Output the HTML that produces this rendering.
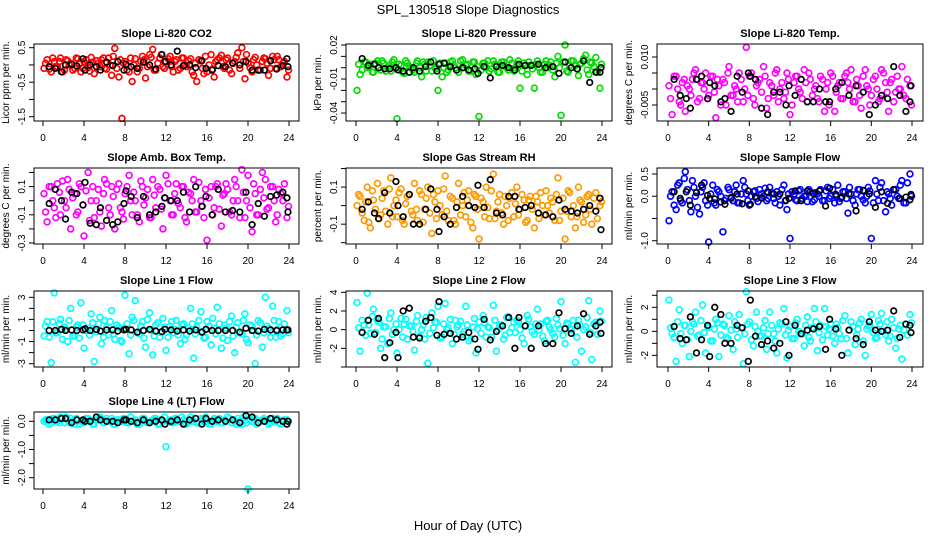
<!DOCTYPE html>
<html><head><meta charset="utf-8"><title>SPL_130518 Slope Diagnostics</title>
<style>
html,body{margin:0;padding:0;background:#fff;}
svg{display:block;font-family:"Liberation Sans",Arial,sans-serif;}
</style></head>
<body>
<svg id="chart" width="936" height="540" viewBox="0 0 936 540" xmlns="http://www.w3.org/2000/svg">
<text x="468" y="14" text-anchor="middle" font-size="13">SPL_130518  Slope Diagnostics</text>
<text x="468" y="530" text-anchor="middle" font-size="13">Hour of Day (UTC)</text>
</svg>
<script>
// Shared time axes (hour of day)
const hoursC = [0.1,0.4,0.8,1.1,1.4,1.7,2.1,2.4,2.7,3.1,3.4,3.7,4.0,4.4,4.7,5.0,5.4,5.7,6.0,6.4,6.7,7.0,7.4,7.7,8.0,8.4,8.7,9.0,9.4,9.7,10.0,10.4,10.7,11.0,11.4,11.7,12.0,12.4,12.7,13.0,13.4,13.7,14.0,14.4,14.7,15.0,15.4,15.7,16.0,16.4,16.7,17.0,17.4,17.7,18.0,18.4,18.7,19.0,19.4,19.7,20.0,20.4,20.7,21.0,21.4,21.7,22.0,22.4,22.7,23.0,23.4,23.8];
const hoursC2 = [0.25,0.6,0.95,1.25,1.6,1.9,2.25,2.55,2.9,3.25,3.55,3.9,4.2,4.55,4.85,5.2,5.55,5.9,6.2,6.55,6.85,7.2,7.55,7.85,8.2,8.55,8.85,9.2,9.55,9.85,10.2,10.55,10.85,11.2,11.55,11.85,12.2,12.55,12.85,13.2,13.55,13.85,14.2,14.55,14.85,15.2,15.55,15.85,16.2,16.55,16.85,17.2,17.55,17.85,18.2,18.55,18.85,19.2,19.55,19.85,20.2,20.55,20.85,21.2,21.55,21.85,22.2,22.55,22.85,23.2,23.55,23.95];
const hoursK = [0.6,1.2,1.8,2.2,2.8,3.3,3.9,4.1,4.6,5.2,5.6,6.2,6.8,7.3,7.9,8.1,8.6,9.2,9.8,10.4,11.0,11.6,11.9,12.5,13.1,13.7,14.3,14.9,15.5,15.9,16.5,17.1,17.8,18.5,19.2,19.8,20.4,21.0,21.6,22.2,22.8,23.4,23.8,23.9];
const xTicks = [0,4,8,12,16,20,24];

// Panel 1: Li-820 CO2
const c1 = [-0.1,0.15,-0.2,0.1,-0.05,0.2,-0.15,0.12,0.05,-0.1,0.18,-0.2,0.1,-0.08,0.22,-0.25,0.05,0.15,-0.1,0.2,-0.3,0.48,-0.35,-1.55,0.1,-0.2,-0.48,0.18,-0.1,0.25,-0.38,0.3,0.45,-0.15,0.2,-0.05,0.1,0.25,-0.2,0.15,-0.1,0.2,-0.05,0.18,-0.3,-0.48,0.12,-0.25,-0.2,0.3,-0.35,0.15,0.28,-0.1,0.2,-0.25,0.1,0.35,0.5,-0.4,0.05,-0.2,0.22,-0.15,0.1,0.18,-0.3,0.25,-0.1,0.15,0.05,-0.35];
const d1 = [0.05,-0.12,0.2,-0.05,0.1,-0.2,0.15,0.0,-0.15,0.2,0.05,-0.1,0.15,-0.18,0.08,0.12,-0.05,0.2,-0.12,0.0,0.25,-0.1,0.15,0.05,-0.15,0.2,0.0,-0.2,0.1,0.15,-0.05,0.22,-0.15,0.05,0.3,-0.1,0.18,-0.05,0.1,-0.15,0.2,0.0,0.12,-0.2,0.05,0.15,-0.1,0.25,0.0,-0.12,0.1,0.2,-0.05,0.15,-0.15,0.05,0.22,-0.1,0.1,0.3,-0.08,0.15,0.0,-0.15,0.2,0.05,-0.1,0.15,0.25,-0.05,0.1,-0.15];
const k1 = [-0.05,-0.1,-0.2,0.0,0.02,-0.03,0.18,-0.15,0.0,-0.05,-0.15,0.08,-0.02,0.1,-0.15,0.02,-0.05,-0.1,0.08,0.0,-0.12,0.3,0.1,0.0,0.4,-0.02,0.0,-0.08,0.12,-0.1,-0.15,-0.02,-0.05,0.05,0.0,0.1,-0.15,-0.15,-0.15,0.12,-0.12,-0.02,0.18,-0.05];
const t1 = [0.5,0,-0.5,-1,-1.5];
const l1 = ["0.5","","-0.5","","-1.5"];
// Panel 2: Li-820 Pressure
const c2 = [-0.02,-0.006,0.005,0.0,0.003,-0.004,0.006,-0.002,0.004,0.0,-0.003,0.007,-0.045,0.002,-0.005,0.004,0.0,-0.004,0.006,-0.008,0.003,0.005,-0.003,0.0,-0.02,-0.008,0.004,-0.002,0.006,0.0,-0.004,0.007,0.002,-0.003,0.005,-0.006,-0.043,0.004,0.0,-0.003,0.006,0.002,-0.004,0.005,0.0,0.007,-0.003,0.003,-0.018,0.004,-0.006,0.002,-0.018,0.006,-0.004,0.003,0.0,0.005,-0.008,0.01,-0.042,0.02,-0.004,0.006,0.002,-0.007,0.004,0.011,-0.006,0.004,0.009,-0.018];
const d2 = [0.003,-0.002,0.005,0.001,-0.004,0.004,0.0,0.006,-0.003,0.002,0.005,-0.001,0.003,-0.004,0.006,0.001,-0.002,0.004,0.0,0.005,-0.003,0.002,0.006,-0.001,0.004,0.0,-0.004,0.005,0.002,-0.002,0.006,0.0,0.003,-0.003,0.005,0.001,-0.002,0.004,0.006,-0.001,0.003,-0.004,0.005,0.001,-0.002,0.004,0.0,0.006,-0.003,0.002,0.005,-0.001,0.003,0.0,-0.004,0.006,0.002,-0.002,0.004,0.0,0.005,-0.003,0.002,0.006,-0.001,0.003,0.008,-0.002,0.005,0.001,-0.004,0.003];
const k2 = [0.008,0.002,0.003,0.0,-0.001,-0.001,0.0,-0.002,-0.003,-0.004,0.0,-0.003,0.001,0.005,-0.003,0.003,0.004,0.001,-0.002,0.0,-0.002,-0.001,-0.005,0.001,-0.009,0.001,0.002,0.0,-0.002,0.003,0.002,0.002,0.003,0.0,0.001,-0.005,0.005,0.0,-0.001,0.006,-0.013,-0.004,-0.004,0.0];
const t2 = [0.02,0.01,0,-0.01,-0.02,-0.03,-0.04];
const l2 = ["0.02","","","-0.01","","","-0.04"];
// Panel 3: Li-820 Temp.
const c3 = [0.001,-0.008,0.004,-0.004,0.002,-0.007,0.0,0.003,0.006,-0.003,0.002,0.005,-0.002,0.004,-0.009,0.001,0.003,-0.005,0.007,-0.002,0.0,0.005,-0.004,0.013,0.004,-0.003,0.001,0.003,0.007,-0.006,0.002,-0.002,0.006,0.0,-0.003,0.005,-0.008,0.002,0.004,-0.001,0.006,-0.004,0.003,0.0,-0.003,0.004,-0.007,0.002,0.005,-0.007,0.001,-0.003,0.004,0.002,0.006,-0.004,0.001,-0.006,0.006,0.0,-0.002,0.004,-0.004,0.006,0.002,-0.007,0.003,-0.001,0.0,0.007,-0.003,0.001];
const d3 = [-0.003,0.004,0.0,-0.005,0.003,0.001,-0.002,0.005,-0.004,0.002,0.0,-0.003,0.004,-0.001,0.003,-0.005,0.002,0.005,-0.002,0.001,-0.004,0.003,0.0,-0.002,0.005,-0.005,0.002,-0.001,0.004,-0.003,0.001,0.005,-0.004,0.002,-0.001,0.003,-0.005,0.004,0.0,-0.003,0.002,0.005,-0.002,0.001,-0.004,0.003,0.0,-0.005,0.004,-0.001,0.002,-0.003,0.005,0.0,-0.004,0.003,-0.002,0.004,0.001,-0.005,0.003,0.0,-0.003,0.005,-0.001,0.002,-0.004,0.004,0.0,-0.002,0.003,-0.005];
const k3 = [0.003,-0.002,-0.003,-0.006,0.003,0.004,-0.003,0.002,0.001,-0.004,-0.003,-0.007,0.004,-0.001,0.005,0.004,0.003,-0.006,-0.008,-0.001,-0.001,-0.005,0.001,-0.002,0.003,-0.004,-0.004,0.0,-0.004,-0.004,0.0,0.002,-0.002,0.001,-0.001,-0.008,-0.005,-0.002,-0.003,0.007,-0.002,-0.007,-0.004,0.001];
const t3 = [0.01,0.005,0,-0.005];
const l3 = ["0.010","","","-0.005"];
// Panel 4: Amb. Box Temp.
const c4 = [0.05,-0.15,0.1,-0.05,0.12,-0.1,0.0,0.15,-0.2,0.05,-0.08,0.1,-0.25,0.2,0.0,-0.12,0.08,-0.18,0.15,-0.05,0.1,-0.2,0.12,-0.08,0.05,0.18,-0.1,0.0,-0.15,0.1,0.02,-0.12,0.15,-0.05,0.08,-0.2,0.18,0.0,-0.1,0.12,-0.05,0.1,-0.15,0.05,0.15,-0.08,0.0,-0.12,-0.28,0.1,-0.05,0.12,-0.18,0.05,0.08,-0.1,0.15,0.0,0.22,-0.12,0.18,-0.22,0.05,-0.1,0.2,0.15,-0.05,0.1,-0.15,0.08,0.0,-0.12];
const d4 = [-0.08,0.1,0.0,-0.12,0.06,0.14,-0.05,0.08,0.02,-0.1,0.12,-0.03,0.07,-0.14,0.1,0.0,-0.08,0.05,0.12,-0.1,0.03,0.08,-0.05,-0.13,0.1,0.0,0.06,-0.1,0.14,-0.03,0.08,-0.12,0.04,0.1,-0.06,0.02,0.12,-0.1,0.05,-0.02,0.1,-0.12,0.06,0.0,-0.08,0.13,-0.04,0.08,0.02,-0.1,0.1,-0.06,0.04,0.12,-0.08,0.0,0.1,-0.12,0.06,0.0,-0.05,0.12,-0.1,0.08,0.02,-0.06,0.1,0.0,-0.1,0.05,0.12,-0.04];
const k4 = [-0.02,0.08,0.0,-0.13,0.06,0.05,-0.03,0.13,-0.16,-0.17,-0.05,-0.14,-0.17,-0.15,-0.02,0.07,0.03,-0.12,0.03,-0.1,-0.08,-0.04,0.02,0.0,0.0,0.06,-0.08,0.1,-0.04,0.03,-0.1,0.08,-0.08,-0.07,-0.08,0.06,-0.17,-0.02,-0.11,0.03,0.04,0.06,0.02,-0.08];
const t4 = [0.2,0.1,0,-0.1,-0.2,-0.3];
const l4 = ["","0.1","","-0.1","","-0.3"];
// Panel 5: Gas Stream RH
const c5 = [0.0,0.05,-0.08,0.1,-0.12,0.03,0.12,-0.05,0.08,-0.1,0.15,0.0,-0.06,0.09,-0.1,0.05,-0.03,0.12,-0.08,0.06,-0.02,0.1,-0.15,0.02,0.08,-0.05,0.16,-0.08,0.04,-0.1,0.12,0.0,-0.06,0.08,-0.12,0.05,-0.18,0.02,0.1,-0.07,0.17,-0.03,0.06,-0.1,0.0,0.04,-0.06,0.1,-0.02,0.03,-0.08,0.05,-0.12,0.02,0.07,-0.05,0.0,0.04,-0.08,0.15,-0.03,-0.18,0.08,-0.06,-0.12,0.1,0.02,-0.05,0.06,-0.1,0.07,0.0];
const d5 = [0.06,-0.04,0.02,-0.09,0.08,-0.02,-0.07,0.04,-0.03,0.09,-0.06,0.03,0.07,-0.08,0.01,0.06,-0.05,-0.02,0.08,-0.09,0.04,-0.04,0.06,-0.07,0.0,0.09,-0.03,0.05,-0.08,0.02,-0.05,0.07,0.03,-0.09,0.06,-0.02,0.04,-0.06,-0.01,0.08,-0.07,0.02,-0.04,0.05,-0.08,0.07,0.01,-0.05,0.06,-0.09,0.03,-0.02,0.05,-0.07,0.0,0.08,-0.04,0.02,0.06,-0.08,0.04,-0.03,0.07,0.0,-0.06,0.03,-0.09,0.05,-0.02,0.04,-0.07,0.02];
const k5 = [-0.02,0.02,-0.04,-0.07,0.07,-0.04,0.13,0.0,-0.06,0.06,-0.1,-0.1,-0.02,0.09,-0.02,-0.14,-0.06,-0.1,-0.01,0.05,0.0,-0.01,0.11,-0.01,0.14,-0.04,-0.05,0.05,0.05,-0.02,-0.01,0.0,-0.04,-0.05,-0.06,0.03,-0.02,-0.03,-0.04,-0.02,0.0,-0.03,0.04,-0.13];
const t5 = [0.2,0.1,0,-0.1,-0.2];
const l5 = ["","0.1","","-0.1",""];
// Panel 6: Sample Flow
const c6 = [-0.55,0.1,-0.3,0.3,-0.15,0.55,-0.1,0.35,0.0,-0.4,0.2,-0.1,-1.03,0.25,-0.2,0.1,-0.8,-0.05,0.15,-0.1,0.25,-0.15,0.35,0.05,-0.2,0.1,-0.05,0.15,0.0,-0.1,0.2,-0.05,0.1,-0.2,0.25,-0.3,-0.95,0.05,-0.1,0.15,0.0,-0.12,0.1,-0.08,0.05,0.15,-0.1,0.2,0.0,-0.15,0.25,-0.05,0.1,-0.38,0.05,-0.2,0.15,0.0,-0.15,0.2,-0.95,0.35,-0.1,0.3,-0.35,0.05,-0.2,0.15,-0.05,0.35,-0.15,0.5];
const d6 = [0.0,-0.2,0.25,-0.1,0.4,0.15,-0.35,0.2,-0.25,0.1,0.3,-0.2,0.05,-0.15,0.15,0.0,-0.1,0.2,-0.05,0.1,-0.15,0.05,0.2,-0.1,0.0,0.12,-0.12,0.05,0.18,-0.05,0.08,-0.15,0.0,0.15,-0.1,0.05,0.1,-0.08,0.12,-0.05,0.0,0.15,-0.12,0.08,0.0,-0.1,0.12,-0.05,0.15,0.0,-0.12,0.1,-0.05,0.2,-0.1,0.05,0.15,-0.08,0.0,0.12,-0.15,0.05,0.2,-0.1,0.1,-0.05,0.15,0.0,0.25,-0.15,0.3,0.0];
const k6 = [0.1,-0.05,0.1,-0.2,0.08,0.25,0.02,-0.05,-0.06,-0.13,-0.18,-0.03,0.05,-0.17,0.12,-0.18,-0.01,-0.04,0.1,0.05,0.05,-0.09,-0.05,0.12,-0.1,0.12,0.06,0.12,-0.22,0.18,0.04,-0.02,0.05,-0.33,0.13,0.05,-0.25,0.1,-0.16,0.15,-0.05,-0.02,-0.08,0.04];
const t6 = [0.5,0,-0.5,-1];
const l6 = ["0.5","0.0","","-1.0"];
// Panel 7: Line 1 Flow
const c7 = [-0.5,0.8,-2.9,3.4,-0.2,1.0,0.3,-1.0,2.0,-0.5,0.5,2.5,-1.6,0.2,1.5,-2.8,0.6,-1.2,0.9,-0.4,1.8,-0.8,0.3,-1.0,3.2,-2.1,1.2,2.7,-0.3,0.8,-1.5,1.6,-2.2,0.5,-0.6,1.1,-1.8,0.4,-0.2,0.9,-1.2,0.6,-0.4,2.0,-2.5,0.3,1.7,-0.7,0.8,-1.3,0.2,2.1,-1.6,0.5,-0.9,1.3,-2.0,0.7,-0.3,1.5,-1.1,0.4,-3.0,0.9,-1.5,3.0,0.2,2.2,-0.6,0.8,-0.3,1.8];
const d7 = [0.4,-0.6,0.8,-0.2,0.6,-0.8,0.1,0.9,-0.5,0.3,-0.7,0.5,0.0,-0.4,0.7,-0.1,1.2,-0.6,0.3,0.8,-0.3,0.5,-0.9,0.2,0.6,-0.4,0.9,-0.2,0.4,-0.7,1.0,0.0,-0.5,0.7,-0.2,0.3,-0.6,0.8,0.1,-0.4,0.5,-0.8,0.2,0.6,-0.3,0.9,-0.1,-0.6,0.4,1.1,-0.3,0.6,-0.7,0.2,0.8,-0.5,0.3,-0.2,0.9,-0.8,0.5,0.0,-0.4,0.7,-0.2,0.4,-0.6,0.9,0.1,-0.5,0.6,-0.2];
const k7 = [0.0,0.0,0.1,0.0,0.05,0.0,0.05,0.15,0.0,0.1,-0.05,0.05,0.05,-0.05,0.05,0.1,0.05,-0.15,0.0,0.1,-0.05,-0.1,0.1,0.05,-0.05,0.05,-0.05,0.05,-0.15,0.1,0.0,0.0,0.0,0.0,-0.15,0.2,0.0,-0.05,0.1,0.05,0.0,0.05,0.05,0.05];
const t7 = [3,2,1,0,-1,-2,-3];
const l7 = ["3","","1","","-1","","-3"];
// Panel 8: Line 2 Flow
const c8 = [2.9,-2.3,0.5,3.9,-0.4,2.2,1.0,-2.0,0.3,-1.5,1.8,0.0,-2.5,1.2,0.6,-1.0,0.4,-2.2,1.5,0.0,-1.0,-3.6,1.8,0.8,2.5,-0.8,2.8,0.2,-1.5,1.0,0.5,-0.5,2.5,-1.2,0.3,-2.5,0.8,1.5,-0.8,0.2,2.6,-2.3,0.5,-1.0,1.3,-0.3,0.8,1.0,0.0,-1.5,1.5,0.3,-0.5,2.2,0.6,-1.2,1.0,0.0,-0.8,0.5,3.0,-1.5,0.6,0.0,-3.5,1.0,-2.3,0.3,3.1,-3.2,0.8,2.0];
const d8 = [0.2,1.0,-0.6,0.5,1.4,-0.3,0.8,-1.0,0.3,1.2,-0.5,0.6,0.0,-0.8,1.1,0.4,-0.2,0.9,-0.7,0.5,1.3,-0.4,0.2,0.8,-0.9,0.6,0.0,1.1,-0.5,0.3,0.9,-0.2,0.5,-1.0,1.2,0.1,-0.4,0.7,0.3,-0.8,1.0,0.0,0.5,-0.6,1.4,0.2,-0.3,0.8,-0.9,0.4,1.1,-0.2,0.6,0.0,-0.7,0.9,0.3,-0.4,1.2,0.1,-0.6,0.7,0.2,1.0,-0.8,0.5,0.0,1.3,-0.3,0.6,-0.5,0.9];
const k8 = [-0.3,1.0,-0.5,1.2,-3.0,-1.4,-0.3,-3.0,2.0,2.3,-0.8,-0.9,0.9,1.3,-0.6,3.0,-0.5,-0.4,-1.0,-0.8,-0.3,-1.0,-2.1,1.1,-1.1,-0.2,0.4,1.3,-2.0,1.3,0.4,-2.0,0.4,-1.5,-1.5,1.8,0.1,-0.4,0.4,1.7,-0.5,0.4,0.8,-0.4];
const t8 = [4,2,0,-2,-4];
const l8 = ["4","2","0","-2",""];
// Panel 9: Line 3 Flow
const c9 = [2.6,-0.2,-2.5,1.8,-1.0,0.5,-2.1,0.8,1.6,-0.3,2.2,-1.8,0.3,-0.8,1.0,-2.1,0.6,-0.5,1.3,-1.5,0.2,1.4,-2.7,3.3,0.8,-1.2,1.6,-0.4,0.3,-1.5,1.6,-0.2,-1.8,0.7,1.9,-2.2,0.4,-0.6,1.0,-0.2,-1.2,1.2,-0.8,1.9,-1.6,0.5,1.9,-0.3,0.6,-1.0,0.3,-0.6,1.3,-1.8,0.8,-1.1,0.2,1.0,-2.0,0.4,1.4,-0.6,0.9,1.5,-0.3,-0.8,1.0,-1.4,0.2,-2.3,0.6,1.4];
const d9 = [0.3,-0.5,0.8,-0.2,0.5,-0.7,0.0,0.6,-0.4,0.9,-0.1,0.4,-0.8,0.2,0.7,-0.3,0.5,-0.6,0.1,0.8,-0.5,0.3,-0.2,0.6,-0.7,0.4,0.0,-0.4,0.9,-0.2,0.5,-0.8,0.2,0.6,-0.3,0.1,-0.6,0.7,0.0,-0.2,0.5,-0.5,0.3,0.8,-0.1,-0.7,0.4,0.2,-0.4,0.6,-0.2,0.9,-0.6,0.1,0.4,-0.3,0.7,-0.8,0.2,0.5,-0.1,-0.5,0.6,0.0,0.8,-0.4,0.3,-0.6,0.5,0.1,-0.3,0.7];
const k9 = [0.4,-0.6,-0.7,1.2,-1.8,-0.7,0.5,-2.1,2.0,1.4,-1.0,-1.0,0.5,0.3,-2.5,2.6,-0.4,-1.1,-0.8,-1.4,-1.0,0.8,-2.0,0.5,-0.2,0.1,0.2,0.4,-1.5,1.0,0.2,-2.0,0.1,-0.6,-1.1,0.8,0.1,0.0,0.1,1.7,-0.5,0.6,0.5,-0.1];
const t9 = [3,2,1,0,-1,-2];
const l9 = ["","2","","0","","-2"];
// Panel 10: Line 4 (LT) Flow
const c10 = [0.0,0.05,-0.05,0.1,0.0,0.15,-0.05,0.05,0.1,-0.1,0.05,0.0,-0.05,0.1,0.0,-0.1,0.05,0.1,-0.05,0.0,0.1,-0.1,0.05,0.0,0.1,-0.05,0.0,0.05,-0.1,0.1,0.0,-0.05,0.05,0.1,-0.1,0.0,-0.9,0.05,-0.05,0.1,0.0,0.05,-0.1,0.15,0.0,-0.05,0.1,0.0,0.05,-0.1,0.1,0.0,-0.05,0.05,0.15,-0.05,0.0,0.1,-0.1,0.05,-2.4,0.0,0.1,-0.05,0.05,0.0,-0.1,0.1,0.05,-0.05,0.0,0.05];
const d10 = [0.05,-0.1,0.1,0.0,-0.05,0.1,0.15,-0.05,0.0,0.1,-0.1,0.05,0.1,0.0,-0.1,0.05,0.15,-0.05,0.1,0.0,-0.1,0.05,0.0,0.1,-0.05,0.15,0.0,-0.1,0.05,0.1,-0.05,0.0,0.1,-0.1,0.05,0.15,0.0,-0.05,0.1,0.0,0.15,-0.1,0.05,0.0,0.1,-0.05,0.05,0.15,-0.1,0.0,0.05,0.1,-0.05,0.0,0.1,0.05,-0.1,0.0,0.15,-0.05,0.05,0.1,-0.1,0.0,0.1,0.05,-0.05,0.0,0.1,-0.1,0.05,0.0];
const k10 = [0.05,0.05,0.1,0.1,-0.05,0.05,0.05,0.0,0.0,0.15,0.05,0.0,0.0,-0.05,0.05,0.05,0.0,-0.05,0.05,-0.05,0.0,0.05,-0.1,0.0,0.05,-0.1,0.05,0.1,-0.1,0.1,0.0,0.05,0.0,0.05,-0.05,0.2,0.15,-0.05,0.0,0.1,0.05,0.0,-0.1,0.0];
const t10 = [0,-0.5,-1,-1.5,-2];
const l10 = ["0.0","","-1.0","","-2.0"];

const NS = "http://www.w3.org/2000/svg";
const svg = document.getElementById('chart');
function mk(tag, attrs, parent){
  const e = document.createElementNS(NS, tag);
  for (const k in attrs) e.setAttribute(k, attrs[k]);
  (parent||svg).appendChild(e);
  return e;
}
const cols = [{x0:43,x24:289,l:34,r:299},{x0:356,x24:602,l:346,r:612},{x0:668,x24:912,l:657,r:923}];
const rows = [{t:44,b:121},{t:168,b:244},{t:291,b:367},{t:412,b:489}];

const panels = [
 {title:"Slope Li-820 CO2", ylab:"Licor ppm per min.", col:0,row:0, ytop:0.607, ybot:-1.625, c:c1,d:d1,k:k1,t:t1,l:l1,color:"#ff0000", slug:"co2"},
 {title:"Slope Li-820 Pressure", ylab:"kPa per min.", col:1,row:0, ytop:0.0209, ybot:-0.047, c:c2,d:d2,k:k2,t:t2,l:l2,color:"#00dd00", slug:"pressure"},
 {title:"Slope Li-820 Temp.", ylab:"degrees C per min.", col:2,row:0, ytop:0.01406, ybot:-0.0100, c:c3,d:d3,k:k3,t:t3,l:l3,color:"#ff00ff", slug:"li820-temp"},
 {title:"Slope Amb. Box Temp.", ylab:"degrees C per min.", col:0,row:1, ytop:0.232, ybot:-0.307, c:c4,d:d4,k:k4,t:t4,l:l4,color:"#ff00ff", slug:"box-temp"},
 {title:"Slope Gas Stream RH", ylab:"percent per min.", col:1,row:1, ytop:0.203, ybot:-0.207, c:c5,d:d5,k:k5,t:t5,l:l5,color:"#ff9a00", slug:"gas-rh"},
 {title:"Slope Sample Flow", ylab:"ml/min per min.", col:2,row:1, ytop:0.635, ybot:-1.074, c:c6,d:d6,k:k6,t:t6,l:l6,color:"#0000ff", slug:"sample-flow"},
 {title:"Slope Line 1 Flow", ylab:"ml/min per min.", col:0,row:2, ytop:3.57, ybot:-3.3, c:c7,d:d7,k:k7,t:t7,l:l7,color:"#00ffff", slug:"line1-flow"},
 {title:"Slope Line 2 Flow", ylab:"ml/min per min.", col:1,row:2, ytop:4.14, ybot:-4.0, c:c8,d:d8,k:k8,t:t8,l:l8,color:"#00ffff", slug:"line2-flow"},
 {title:"Slope Line 3 Flow", ylab:"ml/min per min.", col:2,row:2, ytop:3.36, ybot:-2.97, c:c9,d:d9,k:k9,t:t9,l:l9,color:"#00ffff", slug:"line3-flow"},
 {title:"Slope Line 4 (LT) Flow", ylab:"ml/min per min.", col:0,row:3, ytop:0.33, ybot:-2.4, c:c10,d:d10,k:k10,t:t10,l:l10,color:"#00ffff", slug:"line4-flow"}
];

panels.forEach(p => {
  const C = cols[p.col], R = rows[p.row];
  const xs = h => C.x0 + (h/24)*(C.x24 - C.x0);
  const ys = v => R.t + (p.ytop - v)/(p.ytop - p.ybot)*(R.b - R.t);
  const g = mk('g', {});
  
  
  const title = mk('text', {x:(C.l+C.r)/2, y:R.t-7, 'text-anchor':'middle', 'font-size':'11', 'font-weight':'bold'}, g);
  title.textContent = p.title;
  
  
  const cy = (R.t+R.b)/2, lx = C.l - 25;
  const yl = mk('text', {x:lx, y:cy, 'text-anchor':'middle', 'font-size':'10', transform:`rotate(-90 ${lx} ${cy})`}, g);
  yl.textContent = p.ylab;
  
  
  // colored points (two sampling series)
  const n = Math.min(hoursC.length, p.c.length);
  for (let i=0;i<n;i++){
    const c = mk('circle', {cx:xs(hoursC[i]), cy:ys(p.c[i]), r:2.9, fill:'none', stroke:p.color, 'stroke-width':1.7}, g);
    
    
  }
  const n2 = Math.min(hoursC2.length, p.d.length);
  for (let i=0;i<n2;i++){
    const c = mk('circle', {cx:xs(hoursC2[i]), cy:ys(p.d[i]), r:2.9, fill:'none', stroke:p.color, 'stroke-width':1.7}, g);
    
    
  }
  const m = Math.min(hoursK.length, p.k.length);
  for (let i=0;i<m;i++){
    const c = mk('circle', {cx:xs(hoursK[i]), cy:ys(p.k[i]), r:2.8, fill:'none', stroke:'#000', 'stroke-width':1.7}, g);
    
    
  }
  // box
  const box = mk('rect', {x:C.l, y:R.t, width:C.r-C.l, height:R.b-R.t, fill:'none', stroke:'#000', 'stroke-width':1}, g);
  
  
  // x axis
  const ax = mk('g', {}, g);
  
  
  mk('line', {x1:xs(0), x2:xs(24), y1:R.b, y2:R.b, stroke:'#000'}, ax);
  xTicks.forEach(h => {
    mk('line', {x1:xs(h), x2:xs(h), y1:R.b, y2:R.b+5, stroke:'#000'}, ax);
    const t = mk('text', {x:xs(h), y:R.b+20, 'text-anchor':'middle', 'font-size':'10'}, ax);
    t.textContent = h;
    
    
  });
  // y axis
  const ay = mk('g', {}, g);
  
  
  mk('line', {x1:C.l, x2:C.l, y1:ys(p.t[0]), y2:ys(p.t[p.t.length-1]), stroke:'#000'}, ay);
  p.t.forEach((v,i) => {
    const y = ys(v);
    mk('line', {x1:C.l-5, x2:C.l, y1:y, y2:y, stroke:'#000'}, ay);
    if (p.l[i]) {
      const tx = C.l - 9;
      const t = mk('text', {x:tx, y:y, 'text-anchor':'middle', 'font-size':'10', transform:`rotate(-90 ${tx} ${y})`}, ay);
      t.textContent = p.l[i];
      
      
    }
  });
});
</script>
</body></html>
